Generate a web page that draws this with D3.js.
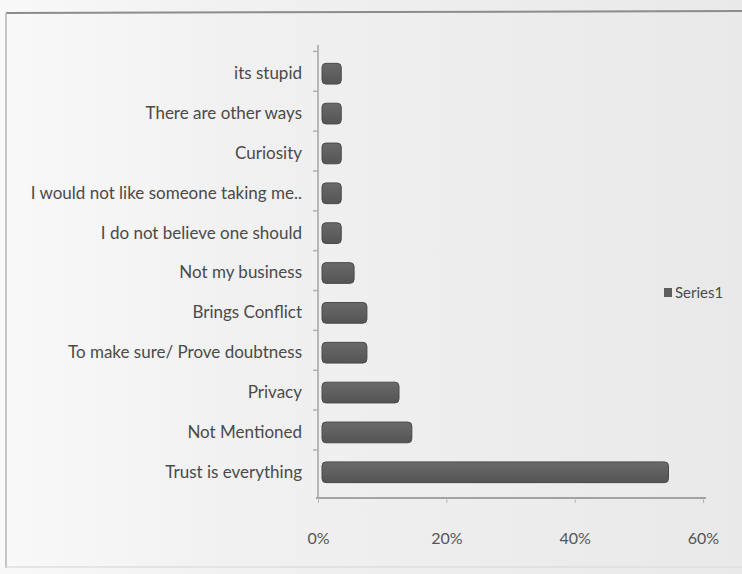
<!DOCTYPE html>
<html>
<head>
<meta charset="utf-8">
<script src="https://cdn.jsdelivr.net/npm/d3@7"></script>
<style>
  html, body { margin: 0; padding: 0; background: #f3f3f3; }
  svg { display: block; }
</style>
</head>
<body>
<svg id="chart" width="742" height="574"></svg>
<script>
// Reasons given, top to bottom as listed on the axis
const categories = [
  "its stupid",
  "There are other ways",
  "Curiosity",
  "I would not like someone taking me..",
  "I do not believe one should",
  "Not my business",
  "Brings Conflict",
  "To make sure/ Prove doubtness",
  "Privacy",
  "Not Mentioned",
  "Trust is everything"
];
// Share of respondents (%)
const values = [3, 3, 3, 3, 3, 5, 7, 7, 12, 14, 54];
const tickValues = [0, 20, 40, 60];
const seriesName = "Series1";

const svg = d3.select("#chart");
const W = 742, H = 574;
const FONT = "Lato, 'Open Sans', sans-serif";

// Background with a soft left-to-right fade
const defs = svg.append("defs");
const bg = defs.append("linearGradient").attr("id", "bg").attr("x1", 0).attr("x2", 1).attr("y1", 0).attr("y2", 0);
bg.append("stop").attr("offset", "0%").attr("stop-color", "#f9f9f9");
bg.append("stop").attr("offset", "30%").attr("stop-color", "#f1f1f1");
bg.append("stop").attr("offset", "100%").attr("stop-color", "#e9e9e9");
svg.append("rect").attr("width", W).attr("height", H).attr("fill", "url(#bg)");

const barGrad = defs.append("linearGradient").attr("id", "barg").attr("x1", 0).attr("x2", 0).attr("y1", 0).attr("y2", 1);
barGrad.append("stop").attr("offset", "0%").attr("stop-color", "#6a6a6a");
barGrad.append("stop").attr("offset", "100%").attr("stop-color", "#545454");

// Frame
svg.append("line").attr("x1", 6).attr("x2", W).attr("y1", 13).attr("y2", 11)
  .attr("stroke", "#8c8c8c").attr("stroke-width", 2);
svg.append("line").attr("x1", 6).attr("x2", 6).attr("y1", 13).attr("y2", 568)
  .attr("stroke", "#c4c4c4").attr("stroke-width", 2);
svg.append("line").attr("x1", 6).attr("x2", W).attr("y1", 567).attr("y2", 567)
  .attr("stroke", "#dedede").attr("stroke-width", 1.5);

const x0 = 318;
const x = d3.scaleLinear().domain([0, 60]).range([x0, 703]);
const y = d3.scaleBand().domain(categories).range([53, 493]).paddingInner(0.48).paddingOuter(0.26);

// Value axis
const xAxis = svg.append("g").attr("transform", "translate(0,498)")
  .call(d3.axisBottom(x).tickValues(tickValues).tickSize(5).tickPadding(30)
    .tickFormat(d => d + "%"));
xAxis.select(".domain").attr("stroke", "#8a8a8a").attr("stroke-width", 1.5).attr("d", `M${x0 - 2},0H706`);
xAxis.selectAll(".tick line").attr("stroke", "#b5b5b5");
xAxis.selectAll(".tick text")
  .attr("fill", "#555").attr("font-family", FONT).attr("font-size", 16);

// Category axis
const yAxis = svg.append("g").attr("transform", `translate(${x0},0)`)
  .call(d3.axisLeft(y).tickSize(0).tickPadding(16));
yAxis.select(".domain").attr("stroke", "#a5a5a5").attr("stroke-width", 1.5).attr("d", "M0,45V498");
yAxis.selectAll(".tick text")
  .attr("fill", "#4a4a4a").attr("font-family", FONT).attr("font-size", 17);

// Small tick marks between categories
const step = y.step();
svg.append("g").selectAll("line").data(categories).join("line")
  .attr("x1", x0 - 5).attr("x2", x0)
  .attr("y1", d => y(d) - step * 0.25 - 2)
  .attr("y2", d => y(d) - step * 0.25 - 2)
  .attr("stroke", "#b0b0b0").attr("stroke-width", 1.5);

// Bars
svg.append("g").selectAll("rect").data(values).join("rect")
  .attr("x", x(0) + 4)
  .attr("y", (d, i) => y(categories[i]))
  .attr("width", d => x(d) - x(0))
  .attr("height", y.bandwidth())
  .attr("rx", 4).attr("ry", 4)
  .attr("fill", "url(#barg)")
  .attr("stroke", "#4a4a4a").attr("stroke-width", 1);

// Legend
const lg = svg.append("g").attr("transform", "translate(664,293)");
lg.append("rect").attr("x", 0).attr("y", -5).attr("width", 8).attr("height", 9).attr("fill", "#5e5e5e");
lg.append("text").attr("x", 11).attr("y", 0).attr("dy", "0.35em")
  .attr("fill", "#4a4a4a").attr("font-family", FONT).attr("font-size", 15)
  .text(seriesName);
</script>
</body>
</html>
